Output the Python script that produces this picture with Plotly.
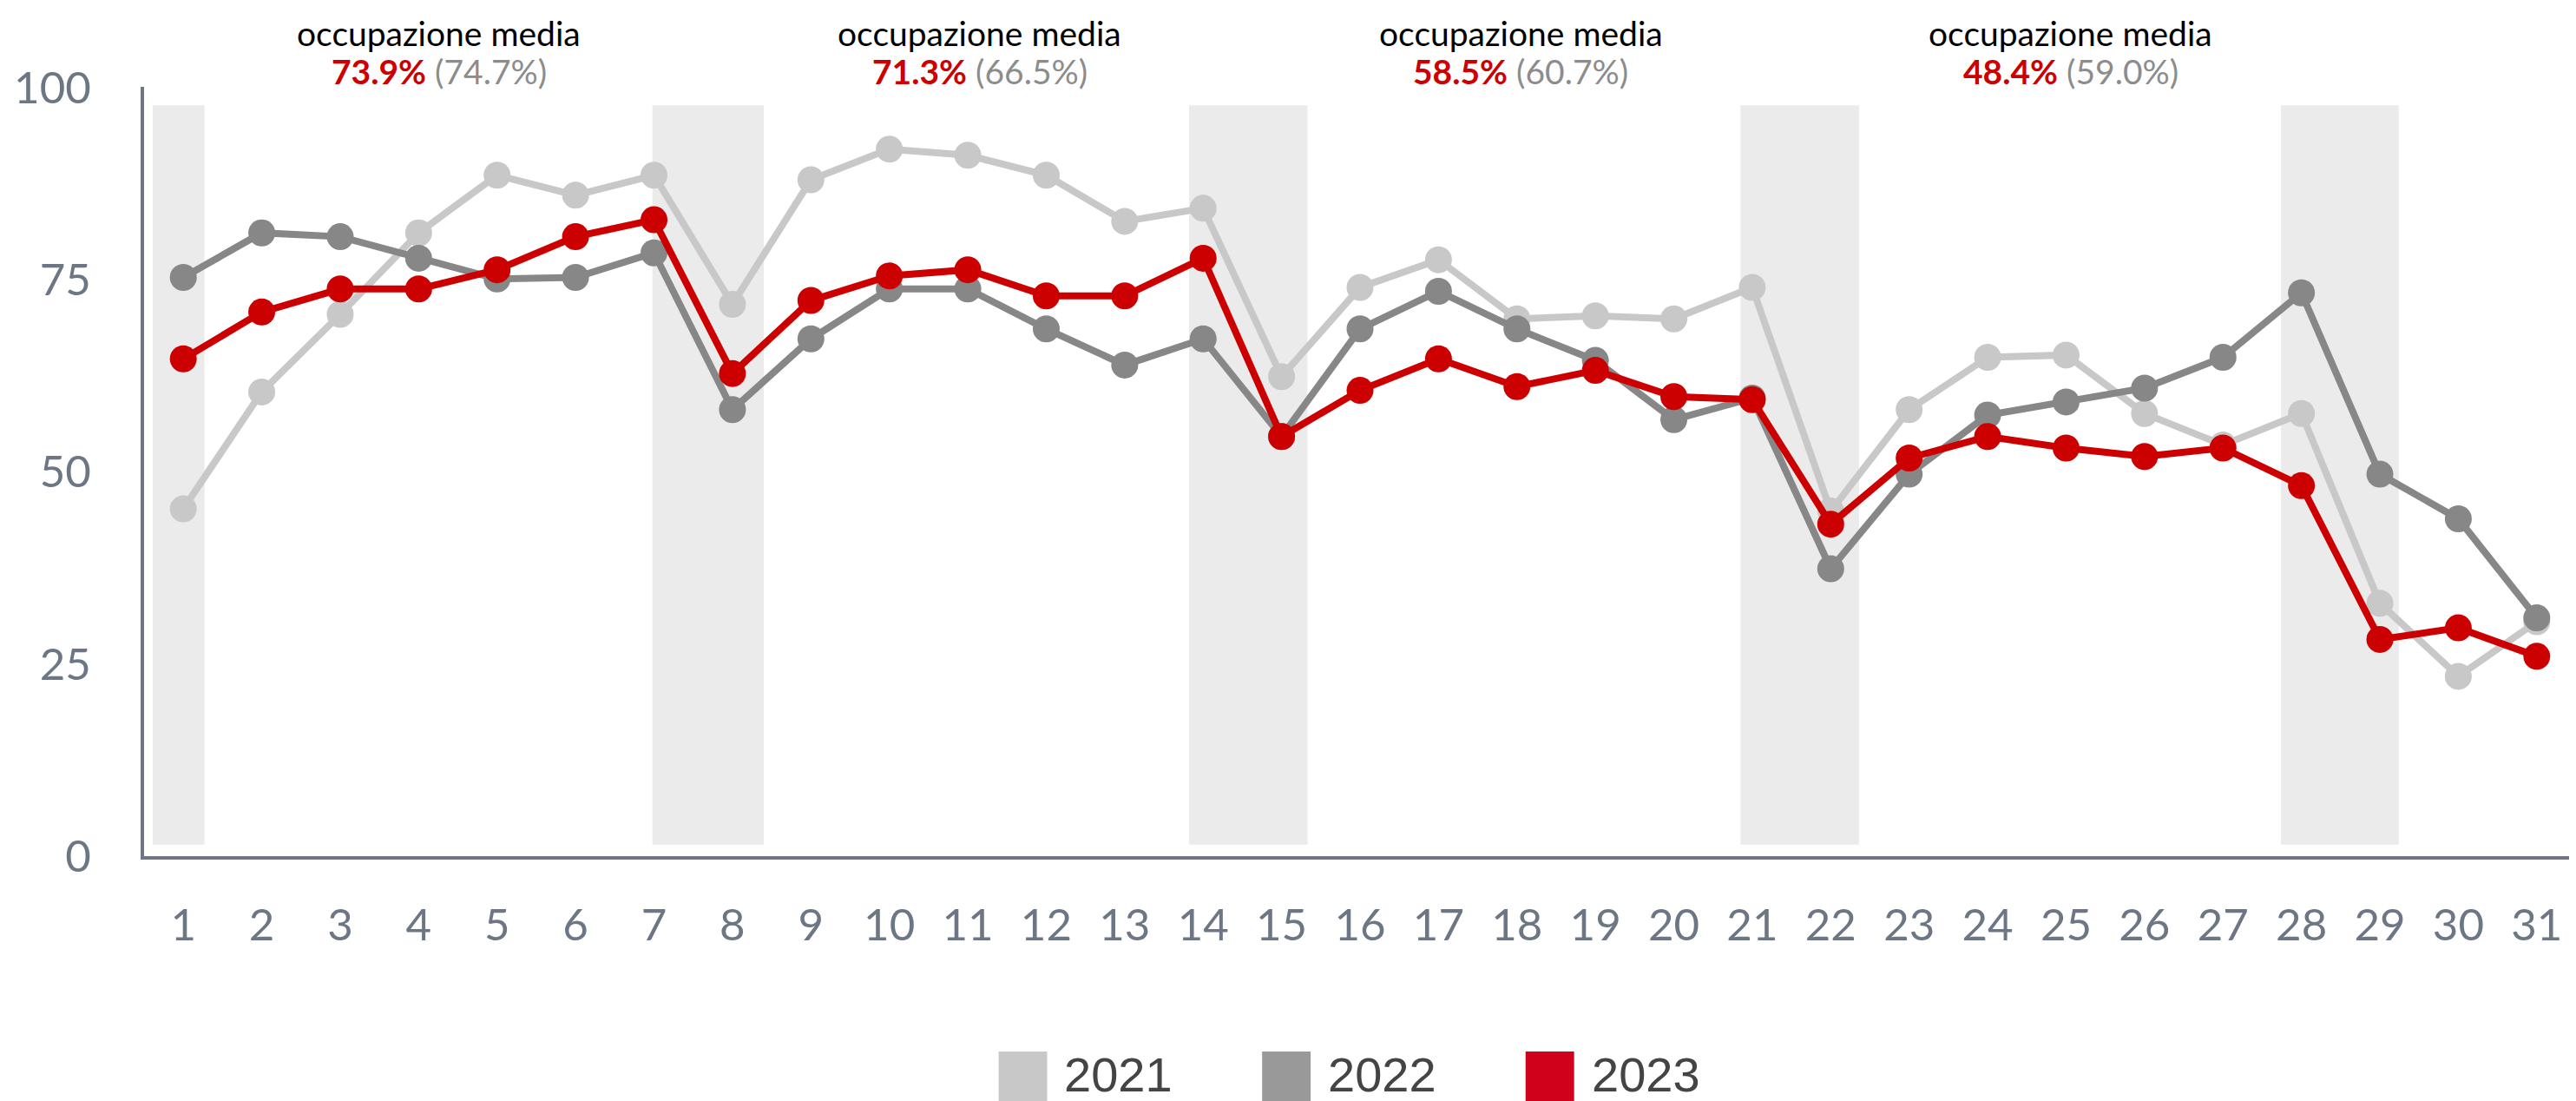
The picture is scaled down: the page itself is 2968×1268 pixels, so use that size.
import plotly.graph_objects as go

# giorni del mese e occupazione (%) per anno
giorni = list(range(1, 32))

occ_2021 = [45.2, 60.4, 70.5, 81.1, 88.6, 86.0, 88.6, 71.8, 88.0, 92.0, 91.2, 88.6, 82.6, 84.3, 62.4,
            74.0, 77.6, 69.9, 70.3, 69.9, 74.0, 44.9, 58.1, 64.9, 65.2, 57.6, 53.5, 57.6, 32.9, 23.4, 30.5]
occ_2022 = [75.3, 81.1, 80.6, 77.8, 75.1, 75.3, 78.5, 58.1, 67.3, 73.8, 73.8, 68.6, 63.9, 67.3, 54.6,
            68.6, 73.5, 68.6, 64.5, 56.8, 59.6, 37.4, 49.7, 57.4, 59.1, 60.9, 64.9, 73.3, 49.7, 43.9, 31.0]
occ_2023 = [64.7, 70.8, 73.8, 73.8, 76.3, 80.6, 82.8, 62.8, 72.3, 75.5, 76.3, 72.9, 72.9, 77.8, 54.6,
            60.6, 64.7, 61.1, 63.2, 59.8, 59.4, 43.2, 51.8, 54.6, 53.1, 52.0, 53.1, 48.2, 28.2, 29.7, 26.0]

anni = ["2021", "2022", "2023"]

# fine settimana (bande grigie)
weekend_da = [0.61, 6.98, 13.82, 20.85, 27.74]
weekend_a = [1.27, 8.40, 15.33, 22.36, 29.24]

# occupazione media per settimana
settimana_x = [4.26, 11.15, 18.05, 25.06]
media_2023 = ["73.9%", "71.3%", "58.5%", "48.4%"]
media_2022 = ["74.7%", "66.5%", "60.7%", "59.0%"]

# colori
col_linee = ["#C8C8C8", "#878787", "#CC0000"]
col_legenda = ["#C8C8C8", "#999999", "#D0021B"]
col_assi = "#6C7684"

# dimensioni della pagina e margini (pixel); il body della pagina ha 8px di margine
W, H = 2968, 1268
OFF = 8
L, R, T, B = 154, 8, 92, 290
pw, ph = W - L - R, H - T - B


# da pixel della pagina a coordinate "paper"
def px(x):
    return (x - OFF - L) / pw


def py(y):
    return (OFF + H - B - y) / ph


fig = go.Figure()

for anno, valori, colore in zip(anni, [occ_2021, occ_2022, occ_2023], col_linee):
    fig.add_trace(go.Scatter(x=giorni, y=valori, name=anno, mode="lines+markers",
                             line=dict(color=colore, width=8),
                             marker=dict(color=colore, size=31),
                             showlegend=False))

# bande del fine settimana
for x0, x1 in zip(weekend_da, weekend_a):
    fig.add_shape(type="rect", xref="x", yref="y", x0=x0, x1=x1, y0=1.5, y1=97.7,
                  fillcolor="#EBEBEB", line_width=0, layer="below")

# titoletti "occupazione media"
for xs, m23, m22 in zip(settimana_x, media_2023, media_2022):
    fig.add_annotation(x=xs, xref="x", y=py(38), yref="paper", text="occupazione media",
                       showarrow=False, xanchor="center", yanchor="middle",
                       font=dict(family="Lato", size=39, color="#000000"))
    fig.add_annotation(x=xs, xref="x", y=py(82), yref="paper",
                       text="<b><span style='color:#CC0000'>" + m23 + "</span></b> "
                            "<span style='color:#8C8C8C'>(" + m22 + ")</span>",
                       showarrow=False, xanchor="center", yanchor="middle",
                       font=dict(family="Lato", size=39, color="#8C8C8C"))

# legenda disegnata a mano (quadrati grandi)
leg_x = [1148, 1452, 1756]
for anno, colore, lx in zip(anni, col_legenda, leg_x):
    fig.add_shape(type="rect", xref="paper", yref="paper", x0=px(lx), x1=px(lx + 56),
                  y0=py(1211), y1=py(1275), fillcolor=colore, line_width=0)
    fig.add_annotation(x=px(lx + 74), xref="paper", y=py(1237), yref="paper", text=anno,
                       showarrow=False, xanchor="left", yanchor="middle",
                       font=dict(family="Liberation Sans", size=56, color="#444444"))

fig.update_xaxes(range=[0.5, 31.5], tickvals=giorni, showgrid=False, zeroline=False,
                 showline=True, linecolor=col_assi, linewidth=4, ticks="",
                 ticklabelstandoff=32,
                 tickfont=dict(family="Lato", size=51, color=col_assi))
fig.update_yaxes(range=[0, 100.1], tickvals=[0, 25, 50, 75, 100], showgrid=False, zeroline=False,
                 showline=True, linecolor=col_assi, linewidth=4, ticks="",
                 ticklabelstandoff=47,
                 tickfont=dict(family="Lato", size=51, color=col_assi))

fig.update_layout(width=W, height=H, margin=dict(l=L, r=R, t=T, b=B),
                  plot_bgcolor="white", paper_bgcolor="white", showlegend=False)

fig.write_html("out.html")
